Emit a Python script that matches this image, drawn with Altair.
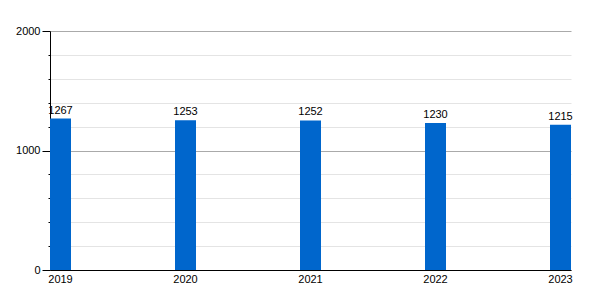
import altair as alt
import pandas as pd

years = ["2019", "2020", "2021", "2022", "2023"]
values = [1267, 1253, 1252, 1230, 1215]
y_ticks = [0, 200, 400, 600, 800, 1000, 1200, 1400, 1600, 1800, 2000]

df = pd.DataFrame({"year": years, "value": values})

FONT = "Liberation Sans"
major = "datum.value % 1000 === 0"

x_enc = alt.X(
    "year:N", sort=years,
    scale=alt.Scale(paddingInner=0.832, paddingOuter=0),
    axis=alt.Axis(title=None, labelAngle=0, ticks=False, domainColor="black",
                  labelFontSize=11, labelColor="black", labelPadding=3, labelFont=FONT),
)
y_enc = alt.Y(
    "value:Q",
    scale=alt.Scale(domain=[0, 2000], nice=False),
    axis=alt.Axis(
        title=None, values=y_ticks, tickCount=50, format="d",
        labelExpr="datum.value % 1000 === 0 ? datum.label : ''",
        labelOverlap=False,
        gridColor={"condition": {"test": major, "value": "#aaaaaa"}, "value": "#e4e4e4"},
        tickSize={"condition": {"test": major, "value": 8}, "value": 2},
        tickColor="black", domainColor="black",
        labelFontSize=11, labelColor="black", labelPadding=2, labelFont=FONT,
    ),
)

bars = alt.Chart(df).mark_bar(color="#0066cc").encode(x=x_enc, y=y_enc)
labels = alt.Chart(df).mark_text(dy=-3, baseline="bottom", fontSize=11, font=FONT, color="black").encode(
    x=alt.X("year:N", sort=years), y=alt.Y("value:Q"), text=alt.Text("value:Q", format="d")
)

chart = (bars + labels).properties(
    width=521, height=239,
    autosize=alt.AutoSizeParams(type="none"),
    padding={"left": 50, "top": 31, "right": 29, "bottom": 30},
).configure_view(stroke=None)

chart.save("out.html", embed_options={"renderer": "svg", "actions": False})
